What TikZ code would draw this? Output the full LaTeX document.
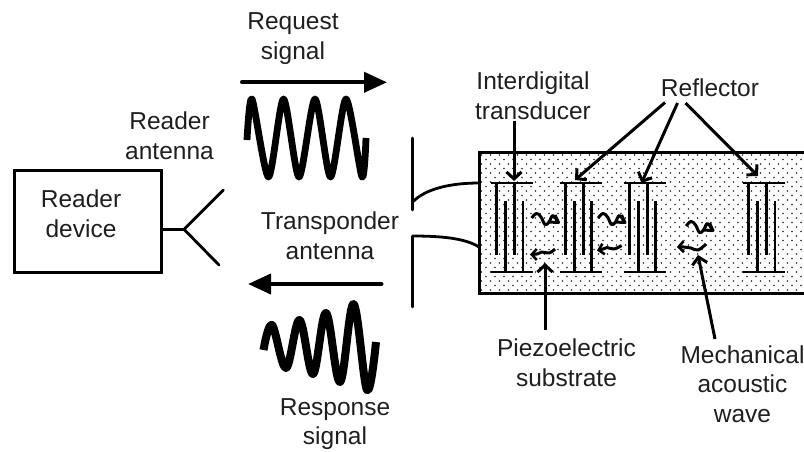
\documentclass[tikz,border=0pt]{standalone}
\usepackage{fontspec}
\setmainfont{Liberation Sans}
\usetikzlibrary{arrows.meta}
\tikzset{
  lbl/.style={align=center,inner sep=0pt,font=\fontsize{24.5}{29.7}\selectfont,text=black!88},
  frame/.style={draw=black,line width=3pt},
  wire/.style={draw=black,line width=2.8pt},
  bar/.style={draw=black,line width=2.8pt},
  finger/.style={draw=black,line width=2.8pt},
  callout/.style={draw=black,line width=3pt,-{Straight Barb[length=7pt,width=15pt,line width=3pt]}},
  bigarrow/.style={draw=black,line width=4pt,line cap=round,-{Triangle[length=23pt,width=20pt]}},
  swave/.style={draw=black,line join=round},
  ripple/.style={draw=black,line width=3pt,line join=round},
  rippleback/.style={ripple,-{Straight Barb[length=5pt,width=11pt,line width=2.6pt]}}
}
\newcommand{\idt}[1]{%
  \draw[bar] (#1+0,183) -- +(42,0);
  \draw[bar] (#1+0,272) -- +(42,0);
  \draw[finger] (#1+6,183) -- +(0,72);
  \draw[finger] (#1+23.6,183) -- +(0,72);
  \draw[finger] (#1+14.6,272) -- +(0,-71);
  \draw[finger] (#1+32.3,272) -- +(0,-71);
}
\newcommand{\ripupper}[2]{%
  \draw[ripple,xshift=#1pt,yshift=-#2pt] plot[smooth,tension=.7] coordinates {(531.7,218) (536.5,213.5) (541,217) (545,224.5) (549,222) (553,215.5) (558,222.5)};
  \draw[ripple,xshift=#1pt,yshift=-#2pt] (548,222) -- (558.5,222.5) -- (555,215);
}
\begin{document}
\begin{tikzpicture}[x=1pt,y=-1pt]
\useasboundingbox (0,0) rectangle (804,451);
% substrate
\fill[white] (479,152) rectangle (804,293);
\foreach \r in {0,...,30}{
  \pgfmathsetmacro{\yy}{155+4.5*\r}
  \pgfmathsetmacro{\off}{mod(\r,2)*4.5}
  \foreach \c in {0,...,36}{
    \fill[black!85] ({481.5+\off+9*\c},\yy) circle (0.9);
  }
}
\draw[frame] (805,152) -- (479,152) -- (479,293) -- (805,293);
% transducers
\idt{490.7}
\idt{559.5}
\idt{623.5}
\idt{742.7}
% surface waves
\ripupper{0}{0}
\ripupper{66.5}{0}
\ripupper{154.5}{8}
\draw[rippleback] plot[smooth,tension=.7] coordinates {(555,249) (549,253) (542,252) (537,254) (530,254.5)};
\draw[rippleback] plot[smooth,tension=.7] coordinates {(621.5,245.5) (614,249) (607,247.5) (603,249) (597,250.5)};
\draw[rippleback] plot[smooth,tension=.7] coordinates {(706,244) (698,250) (691,248) (684,247) (677,247)};
% reader
\node[frame,minimum width=146.7pt,minimum height=102pt,inner sep=0pt] (reader) at (88.3,221) {};
\node[lbl] (readertext) at (81,213.5) {Reader\\device};
\coordinate (fork) at (184,229.3);
\coordinate (forkup) at (223.3,190);
\coordinate (forkdown) at (219,265);
\draw[wire] (reader.east |- fork) -- (fork);
\draw[wire,line cap=round] (forkup) -- (fork) -- (forkdown);
% transponder antenna
\coordinate (dipoleA) at (412.7,138);
\coordinate (dipoleB) at (412.7,210);
\coordinate (dipoleC) at (412.7,236);
\coordinate (dipoleD) at (412.7,307);
\coordinate (padA) at (479,183);
\coordinate (padB) at (479,247);
\draw[wire,line cap=round] (dipoleA) -- (dipoleB);
\draw[wire,line cap=round] (dipoleC) -- (dipoleD);
\draw[wire] (412.7,202) .. controls (425,189) and (450,183) .. (padA);
\draw[wire] (dipoleC) .. controls (440,236) and (465,238) .. (padB);
% big arrows
\coordinate (reqA) at (242,82.3);
\coordinate (reqB) at (387,82.3);
\coordinate (respA) at (381.5,284);
\coordinate (respB) at (248,284);
\draw[bigarrow] (reqA) -- (reqB);
\draw[bigarrow] (respA) -- (respB);
% signals
\draw[swave,line width=6.8pt] plot[smooth,tension=.45] coordinates {(247,140) (252,99) (268.5,177) (283.5,99) (299,177) (315,99) (330.5,177) (346,99) (362,177) (366,138)};
\draw[swave,line width=8pt] plot[smooth,tension=.6] coordinates {(263.5,350) (272,325) (286,368) (299.5,320) (313,374) (326,313) (340,382) (353.5,304) (367,390) (376,342)};
% labels
\node[lbl] (request) at (293,38.5) {Request\\signal};
\node[lbl] (readerant) at (169.5,135.5) {Reader\\antenna};
\node[lbl] (transp) at (330,236) {Transponder\\antenna};
\node[lbl] (response) at (335,424) {Response\\signal};
\node[lbl] (idtlabel) at (533,96) {Interdigital\\transducer};
\node[lbl] (reflector) at (710,88) {Reflector};
\node[lbl] (piezo) at (566.5,362.5) {Piezoelectric\\substrate};
\node[lbl] (mech) at (742.5,384) {Mechanical\\acoustic\\wave};
% callouts
\coordinate (idtS) at (514,121);
\coordinate (idtT) at (514,181);
\coordinate (r1S) at (665,102.5);
\coordinate (r1T) at (575,180);
\coordinate (r2S) at (677.5,103);
\coordinate (r2T) at (641.5,183);
\coordinate (r3S) at (685.5,103);
\coordinate (r3T) at (758,176);
\coordinate (pzS) at (545,330);
\coordinate (pzT) at (545,263);
\coordinate (mcS) at (715,339);
\coordinate (mcT) at (698,255);
\draw[callout] (idtS) -- (idtT);
\draw[callout] (r1S) -- (r1T);
\draw[callout] (r2S) -- (r2T);
\draw[callout] (r3S) -- (r3T);
\draw[callout] (pzS) -- (pzT);
\draw[callout] (mcS) -- (mcT);
\end{tikzpicture}
\end{document}
